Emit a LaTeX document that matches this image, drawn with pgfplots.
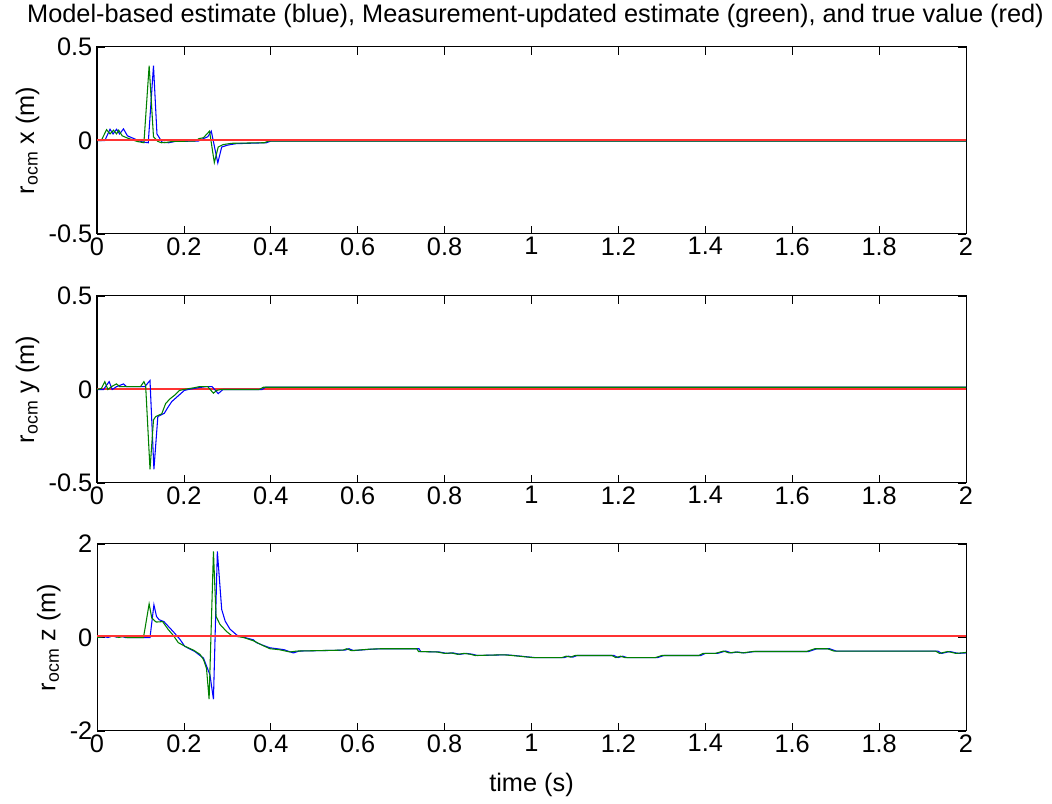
\documentclass[border=0pt]{standalone}
\usepackage{fontspec}
\setmainfont{Liberation Sans}
\usepackage{pgfplots}
\pgfplotsset{compat=1.18}
\definecolor{mblue}{rgb}{0,0,1}
\definecolor{mgreen}{rgb}{0,0.5,0}
\definecolor{mred}{rgb}{1,0.2,0.2}
\newcommand\mfont{\fontsize{19}{23}\selectfont}
\pgfplotsset{
  mstyle/.style={
    scale only axis, width=651.75pt, height=140.25pt,
    xmin=0, xmax=2,
    xtick={0,0.2,0.4,0.6,0.8,1,1.2,1.4,1.6,1.8,2},
    xticklabels={0,0.2,0.4,0.6,0.8,1,1.2,1.4,1.6,1.8,2},
    tick align=inside, tick pos=both, major tick length=6pt,
    tick style={line width=0.6pt, black},
    axis line style={line width=0.75pt},
    tick label style={font=\mfont},
    xticklabel style={yshift=1pt},
    label style={font=\mfont},
    xlabel style={yshift=-9pt},
    title style={font=\mfont, yshift=5pt, xshift=3pt},
    clip=true,
  },
  gline/.style={mgreen, line width=0.8pt},
  bline/.style={mblue, line width=0.8pt},
  rline/.style={draw=mred, line width=1.5pt},
}
\begin{document}
\begin{tikzpicture}
\path[use as bounding box] (0,0) rectangle (789pt,602.25pt);
% ---------------- axis 1 ----------------
\begin{axis}[mstyle, at={(72.75pt,567pt)}, anchor=north west,
  ymin=-0.5, ymax=0.5, ytick={-0.5,0,0.5}, yticklabels={-0.5,0,0.5},
  ylabel={r\textsubscript{ocm} x (m)},
  title={Model-based estimate (blue), Measurement-updated estimate (green), and true value (red)}]
\addplot[bline] coordinates {
(0,0) (0.018,0.0) (0.030,0.060) (0.037,0.035) (0.045,0.060) (0.052,0.035) (0.061,0.062)
(0.070,0.025) (0.080,0.015) (0.095,0.000) (0.105,-0.008) (0.118,-0.012) (0.130,0.400)
(0.138,0.035) (0.150,-0.010) (0.165,-0.012) (0.180,-0.005) (0.233,-0.003) (0.245,0.010)
(0.255,0.020) (0.263,0.050) (0.278,-0.120) (0.287,-0.035) (0.300,-0.025) (0.320,-0.017)
(0.390,-0.012) (0.400,-0.003) (2.000,-0.003)};
\addplot[gline] coordinates {
(0,0) (0.010,0.0) (0.022,0.058) (0.030,0.035) (0.038,0.055) (0.045,0.035) (0.050,0.055)
(0.058,0.025) (0.068,0.015) (0.080,0.005) (0.092,-0.005) (0.108,-0.012) (0.120,0.400)
(0.130,0.020) (0.140,-0.005) (0.148,-0.012) (0.160,-0.010) (0.175,-0.005) (0.200,-0.004)
(0.225,-0.003) (0.235,0.010) (0.245,0.015) (0.259,0.050) (0.270,-0.118) (0.279,-0.035)
(0.290,-0.022) (0.310,-0.015) (0.385,-0.012) (0.395,-0.003) (2.000,-0.003)};
\addplot[rline] coordinates {(0,0) (2,0)};
\end{axis}
% ---------------- axis 2 ----------------
\begin{axis}[mstyle, at={(72.75pt,380.25pt)}, anchor=north west,
  ymin=-0.5, ymax=0.5, ytick={-0.5,0,0.5}, yticklabels={-0.5,0,0.5},
  ylabel={r\textsubscript{ocm} y (m)}]
\addplot[rline] coordinates {(0,0) (2,0)};
\addplot[bline] coordinates {
(0,0) (0.015,0.000) (0.028,0.042) (0.035,0.000) (0.045,0.015) (0.061,0.030) (0.068,0.015)
(0.110,0.015) (0.122,0.048) (0.131,-0.427) (0.140,-0.145) (0.155,-0.127) (0.162,-0.100)
(0.172,-0.065) (0.184,-0.040) (0.201,-0.005) (0.210,0.000) (0.235,0.010) (0.250,0.015)
(0.265,0.015) (0.279,-0.022) (0.290,0.000) (0.380,0.000) (0.388,0.012) (2.000,0.012)};
\addplot[gline] coordinates {
(0,0) (0.010,0.005) (0.018,0.042) (0.025,0.0) (0.033,0.015) (0.045,0.030) (0.052,0.015)
(0.060,0.015) (0.100,0.015) (0.108,0.042) (0.112,0.020) (0.122,-0.427) (0.130,-0.163)
(0.135,-0.145) (0.149,-0.130) (0.158,-0.075) (0.168,-0.050) (0.180,-0.028) (0.190,-0.005)
(0.200,0.000) (0.225,0.010) (0.235,0.015) (0.255,0.015) (0.268,-0.020) (0.275,-0.005)
(0.285,0.000) (0.373,0.000) (0.383,0.012) (2.000,0.012)};
\end{axis}
% ---------------- axis 3 ----------------
\begin{axis}[mstyle, at={(72.75pt,194.25pt)}, anchor=north west,
  ymin=-2, ymax=2, ytick={-2,0,2}, yticklabels={-2,0,2},
  ylabel={r\textsubscript{ocm} z (m)}, xlabel={time (s)}]
\addplot[bline] coordinates {
(0,0.0) (0.015,0.02) (0.025,0.0) (0.035,0.03) (0.045,0.01) (0.055,0.03) (0.065,0.0)
(0.122,0.0) (0.131,0.70) (0.137,0.45) (0.143,0.38) (0.154,0.34) (0.165,0.23) (0.176,0.12)
(0.191,-0.04) (0.202,-0.19) (0.225,-0.30) (0.245,-0.44) (0.260,-0.80) (0.268,-1.32)
(0.277,1.84) (0.287,0.60) (0.295,0.35) (0.306,0.18) (0.322,0.05) (0.340,0.00)
(0.360,-0.05) (0.367,-0.11) (0.383,-0.17) (0.398,-0.22) (0.430,-0.26) (0.452,-0.33)
(0.465,-0.29) (0.571,-0.27) (0.580,-0.24) (0.590,-0.28) (0.605,-0.27) (0.632,-0.25)
(0.660,-0.24) (0.741,-0.24) (0.745,-0.30) (0.788,-0.31) (0.805,-0.34) (0.820,-0.33)
(0.835,-0.36) (0.850,-0.34) (0.865,-0.36) (0.875,-0.385) (0.941,-0.37) (0.960,-0.385)
(1.008,-0.43) (1.075,-0.43) (1.085,-0.40) (1.095,-0.42) (1.105,-0.385) (1.190,-0.385)
(1.199,-0.43) (1.210,-0.40) (1.220,-0.43) (1.290,-0.43) (1.305,-0.385) (1.390,-0.385)
(1.400,-0.34) (1.428,-0.34) (1.447,-0.29) (1.460,-0.33) (1.475,-0.31) (1.490,-0.33)
(1.514,-0.30) (1.638,-0.30) (1.657,-0.24) (1.686,-0.24) (1.701,-0.29) (1.935,-0.29)
(1.944,-0.34) (1.963,-0.30) (1.982,-0.34) (2.000,-0.33)};
\addplot[gline] coordinates {
(0,0.0) (0.010,0.01) (0.020,0.03) (0.030,0.02) (0.040,0.03) (0.050,0.0) (0.060,0.02)
(0.070,0.0) (0.107,0.0) (0.120,0.72) (0.126,0.42) (0.136,0.33) (0.151,0.34) (0.164,0.17)
(0.176,0.04) (0.187,-0.11) (0.203,-0.19) (0.222,-0.27) (0.237,-0.36) (0.245,-0.47)
(0.252,-0.66) (0.258,-1.32) (0.268,1.84) (0.274,0.45) (0.283,0.28) (0.298,0.13)
(0.310,0.04) (0.337,0.00) (0.360,-0.07) (0.379,-0.16) (0.398,-0.24) (0.419,-0.26)
(0.444,-0.31) (0.460,-0.29) (0.566,-0.27) (0.575,-0.24) (0.585,-0.28) (0.600,-0.27)
(0.627,-0.25) (0.655,-0.24) (0.736,-0.24) (0.740,-0.30) (0.783,-0.31) (0.800,-0.34)
(0.815,-0.33) (0.830,-0.36) (0.845,-0.34) (0.860,-0.36) (0.870,-0.385) (0.936,-0.37)
(0.955,-0.385) (1.003,-0.43) (1.070,-0.43) (1.080,-0.40) (1.090,-0.42) (1.100,-0.385)
(1.185,-0.385) (1.194,-0.43) (1.205,-0.40) (1.215,-0.43) (1.285,-0.43) (1.300,-0.385)
(1.385,-0.385) (1.395,-0.34) (1.423,-0.34) (1.442,-0.29) (1.455,-0.33) (1.470,-0.31)
(1.485,-0.33) (1.509,-0.30) (1.633,-0.30) (1.652,-0.24) (1.681,-0.24) (1.696,-0.29)
(1.930,-0.29) (1.939,-0.34) (1.958,-0.30) (1.977,-0.34) (2.000,-0.32)};
\addplot[rline] coordinates {(0,0.04) (2,0.04)};
\end{axis}
\end{tikzpicture}
\end{document}
